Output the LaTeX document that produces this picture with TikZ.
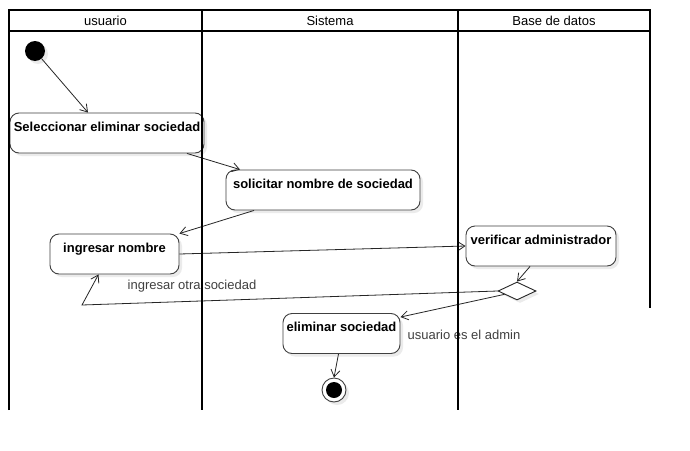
\documentclass[tikz,border=0pt]{standalone}
\usepackage{fontspec}
\setmainfont{Liberation Sans}
\usetikzlibrary{arrows.meta,shapes.geometric,shadows}

\tikzset{
	activity/.style={rectangle, rounded corners=9pt, draw=black!75, line width=0.9pt, fill=white,
		inner sep=0pt, text height=18pt, text depth=22pt, font=\fontsize{13}{15}\selectfont\bfseries,
		drop shadow={shadow xshift=3pt, shadow yshift=-3pt, fill=black!8, opacity=1}},
	decision/.style={diamond, draw=black!85, line width=0.9pt, fill=white, inner sep=0pt,
		minimum width=38pt, minimum height=18pt, aspect=2,
		drop shadow={shadow xshift=3pt, shadow yshift=-3pt, fill=black!8, opacity=1}},
	flowarrow/.style={-{Straight Barb[length=7pt, width=9pt]}, line width=0.8pt, color=black!85},
	guard/.style={text=black!75, inner sep=0pt},
	lanebox/.style={line width=1.6pt, color=black}
}

\begin{document}
\begin{tikzpicture}[x=1pt, y=-1pt, font=\fontsize{13}{15}\selectfont]
	\useasboundingbox[fill=white] (0,0) rectangle (690,450);

	% start and end
	\node[circle, fill=black, minimum size=20pt, inner sep=0pt,
		drop shadow={shadow xshift=3pt, shadow yshift=-3pt, fill=black!8, opacity=1}](start) at (35,51){};
	\node[circle, draw=black!75, line width=0.9pt, fill=white, minimum size=24pt, inner sep=0pt,
		drop shadow={shadow xshift=3pt, shadow yshift=-3pt, fill=black!8, opacity=1},
		path picture={\fill[black] (path picture bounding box.center) circle (8pt);}](finish) at (334,390){};

	% activities
	\node[activity, minimum width=194pt](select) at (107,133){Seleccionar eliminar sociedad};
	\node[activity, minimum width=194pt](ask) at (323,190){solicitar nombre de sociedad};
	\node[activity, minimum width=129pt](enter) at (114.5,254){ingresar nombre};
	\node[activity, minimum width=150pt](verify) at (541,246){verificar administrador};
	\node[activity, minimum width=117pt](remove) at (341.5,333.5){eliminar sociedad};
	\node[decision](choice) at (517,291){};

	\coordinate (back) at (82,305);

	% flows
	\draw[flowarrow] (start) -- ([xshift=-19pt]select.north);
	\draw[flowarrow] ([xshift=80pt]select.south) -- ([xshift=-83pt]ask.north);
	\draw[flowarrow] ([xshift=-69pt]ask.south) -- (enter.north east);
	\draw[flowarrow] (enter.east) -- (verify.west);
	\draw[flowarrow] ([xshift=-11pt]verify.south) -- (choice.north);
	\draw[flowarrow] (choice.west) -- (back) -- ([xshift=-16pt]enter.south);
	\draw[flowarrow] (choice.195) -- ([yshift=-4pt]remove.north east);
	\draw[flowarrow] ([xshift=-3pt]remove.south) -- (finish.north);

	% guards
	\node[guard](other) at (192,286){ingresar otra sociedad};
	\node[guard](admin) at (464,335){usuario es el admin};

	% swimlanes
	\draw[lanebox] (9,410) -- (9,10) -- (650,10) -- (650,308);
	\draw[lanebox] (9,31) -- (650,31);
	\draw[lanebox] (202,10) -- (202,410);
	\draw[lanebox] (458,10) -- (458,410);
	\node[inner sep=0pt](usuario) at (105.5,20.5){usuario};
	\node[inner sep=0pt](sistema) at (330,20.5){Sistema};
	\node[inner sep=0pt](base) at (554,20.5){Base de datos};

\end{tikzpicture}
\end{document}
